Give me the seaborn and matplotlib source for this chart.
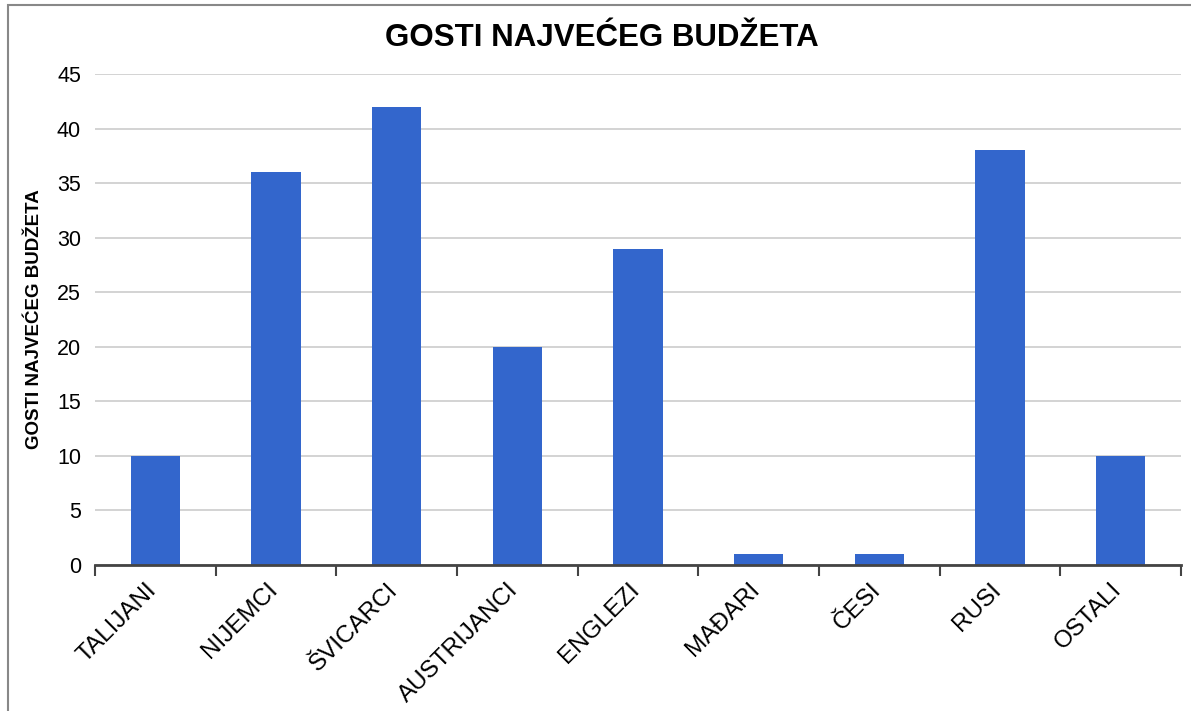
import numpy as np
import pandas as pd
import matplotlib
matplotlib.use("Agg")
import matplotlib.pyplot as plt
import matplotlib.transforms as mtransforms
import seaborn as sns
from matplotlib.patches import Rectangle

# Data
categories = ["TALIJANI", "NIJEMCI", "ŠVICARCI", "AUSTRIJANCI", "ENGLEZI",
              "MAĐARI", "ČESI", "RUSI", "OSTALI"]
values = [10, 36, 42, 20, 29, 1, 1, 38, 10]
y_ticks = [0, 5, 10, 15, 20, 25, 30, 35, 40, 45]
title = "GOSTI NAJVEĆEG BUDŽETA"

df = pd.DataFrame({"kategorija": categories, "gosti": values})

sns.set_style("white")
plt.rcParams['font.family'] = ['Liberation Sans', 'DejaVu Sans']
plt.rcParams['text.color'] = 'black'
plt.rcParams['xtick.color'] = 'black'
plt.rcParams['ytick.color'] = 'black'
plt.rcParams['axes.labelcolor'] = 'black'

fig = plt.figure(figsize=(11.91, 7.11), dpi=100)
ax = fig.add_axes([95 / 1191, 1 - 565 / 711, (1181 - 95) / 1191, (565 - 74) / 711])

sns.barplot(data=df, x="kategorija", y="gosti", color="#3366CC", width=0.41,
            saturation=1, linewidth=0, ax=ax, zorder=3)

ax.set_ylim(0, 45)
ax.set_xlim(-0.5, len(categories) - 0.5)
ax.set_yticks(y_ticks)
ax.yaxis.grid(True, color="#CCCCCC", linewidth=1.2, zorder=0)
ax.set_axisbelow(True)

for side in ["left", "right", "top"]:
    ax.spines[side].set_visible(False)
ax.spines["bottom"].set_color("#444444")
ax.spines["bottom"].set_linewidth(2)
ax.spines["bottom"].set_zorder(4)

# category boundary ticks below the axis
ax.set_xticks(np.arange(-0.5, len(categories)), minor=True)
ax.tick_params(axis="x", which="minor", bottom=True, length=8, width=1.5,
               color="#444444", direction="out")
ax.tick_params(axis="x", which="major", length=0, pad=10)
ax.tick_params(axis="y", length=0, labelsize=15.5, pad=10)
ax.set_xticks(range(len(categories)))
ax.set_xticklabels(categories, rotation=45, ha="right", rotation_mode="anchor", fontsize=17.5)

# nudge the rotated labels a little to the left
shift = mtransforms.ScaledTranslation(-10 / 100, 0, fig.dpi_scale_trans)
for lbl in ax.get_xticklabels():
    lbl.set_transform(lbl.get_transform() + shift)

ax.set_xlabel("")
ax.set_ylabel(title, fontsize=13.5, fontweight="bold", labelpad=10)
fig.text(602 / 1191, 1 - 38 / 711, title, ha="center", va="center",
         fontsize=22.5, fontweight="bold")

# outer frame
fig.patches.append(Rectangle((8 / 1191, -0.05), 1.1, 1 - 5 / 711 + 0.05,
                             transform=fig.transFigure, fill=False,
                             edgecolor="#888888", linewidth=1.5))

fig.savefig("out.png", dpi=100)
